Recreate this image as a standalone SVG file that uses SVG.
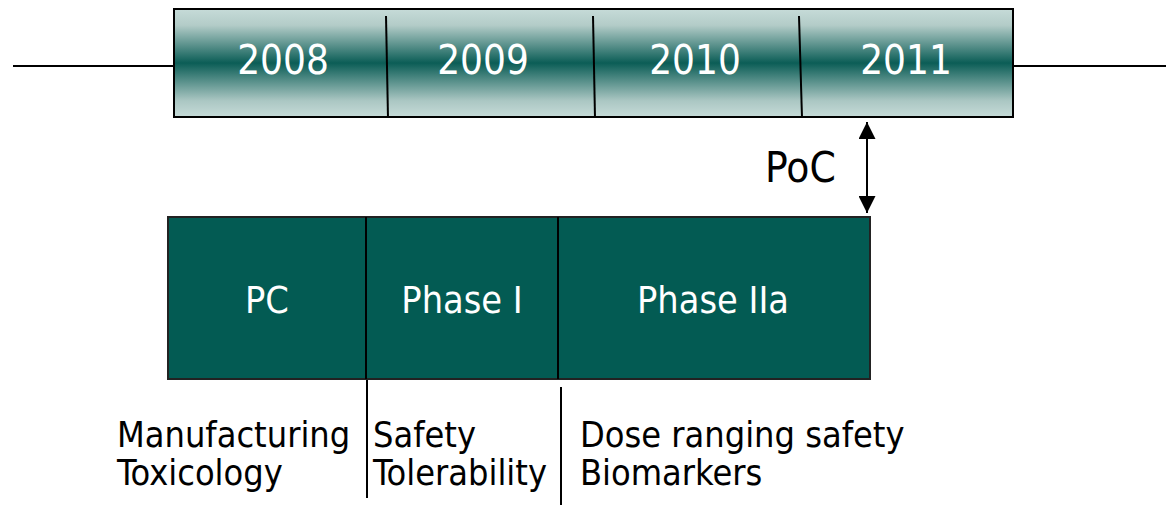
<svg xmlns="http://www.w3.org/2000/svg" width="1166" height="505" viewBox="0 0 1166 505">
<style>
text{font-family:"DejaVu Sans Condensed","DejaVu Sans",sans-serif;font-stretch:condensed}
.yr{fill:#fff;font-size:40px;text-anchor:middle}
.ph{fill:#fff;font-size:37.5px;text-anchor:middle}
.lb{fill:#000;font-size:35.8px}
.ln{stroke:#000;stroke-width:2;fill:none}
</style>
<defs>
<linearGradient id="g" x1="0" y1="0" x2="0" y2="1">
<stop offset="0" stop-color="#c6dbd8"/>
<stop offset="0.15" stop-color="#b3ccc8"/>
<stop offset="0.5" stop-color="#0b5d56"/>
<stop offset="0.85" stop-color="#abc7c3"/>
<stop offset="1" stop-color="#c6dbd8"/>
</linearGradient>
<marker id="ah" viewBox="0 0 10 10" refX="10" refY="5" markerWidth="17" markerHeight="17" markerUnits="userSpaceOnUse" orient="auto-start-reverse">
<path d="M0,0 L10,5 L0,10 Z" fill="#000"/>
</marker>
</defs>
<g id="connectors">
<line class="ln" x1="13" y1="66" x2="174" y2="66"/>
<line class="ln" x1="1013" y1="66" x2="1166" y2="66"/>
<line class="ln" x1="867" y1="122" x2="867" y2="213" marker-start="url(#ah)" marker-end="url(#ah)"/>
<line class="ln" x1="367" y1="379" x2="367" y2="498"/>
<line class="ln" x1="561" y1="387" x2="561" y2="505"/>
</g>
<g id="timeline">
<rect x="174" y="9" width="839" height="108" fill="url(#g)" stroke="#000" stroke-width="2"/>
<line class="ln" x1="386" y1="16" x2="388" y2="118"/>
<line class="ln" x1="593" y1="16" x2="595" y2="118"/>
<line class="ln" x1="799" y1="16" x2="802" y2="118"/>
<text class="yr" x="283" y="74">2008</text>
<text class="yr" x="483" y="74">2009</text>
<text class="yr" x="695" y="74">2010</text>
<text class="yr" x="906" y="74">2011</text>
</g>
<g id="poc">
<text class="lb" x="765" y="182" style="font-size:42px">PoC</text>
</g>
<g id="phases">
<rect x="168" y="217" width="702" height="162" fill="#035b53" stroke="#222" stroke-width="2"/>
<line class="ln" x1="366" y1="217" x2="366" y2="379"/>
<line class="ln" x1="558" y1="217" x2="558" y2="379"/>
<text class="ph" x="267" y="313">PC</text>
<text class="ph" x="462" y="313">Phase I</text>
<text class="ph" x="713" y="313">Phase IIa</text>
</g>
<g id="notes">
<text class="lb" x="117" y="447">Manufacturing</text>
<text class="lb" x="117" y="485">Toxicology</text>
<text class="lb" x="373" y="447">Safety</text>
<text class="lb" x="373" y="485">Tolerability</text>
<text class="lb" x="580" y="447">Dose ranging safety</text>
<text class="lb" x="580" y="485">Biomarkers</text>
</g>
</svg>
